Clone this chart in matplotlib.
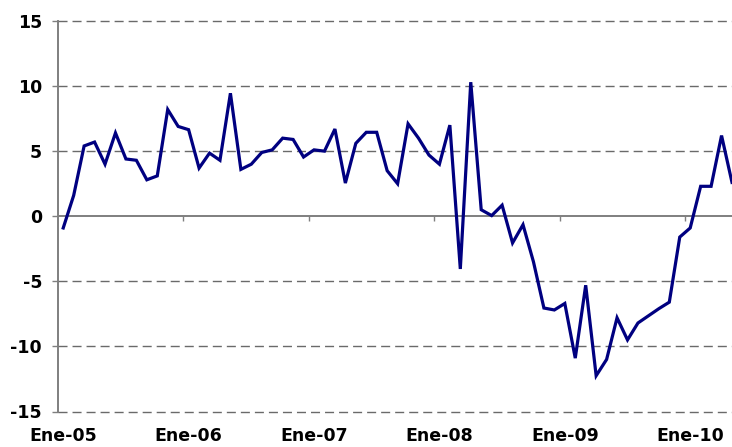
import matplotlib.pyplot as plt
import numpy as np

# Datos: variacion mensual, enero 2005 a mayo 2010
valores = [-0.9, 1.6, 5.4, 5.7, 4.0, 6.4, 4.4, 4.3, 2.8, 3.1, 8.2, 6.9,
           6.65, 3.7, 4.85, 4.3, 9.45, 3.6, 4.0, 4.9, 5.1, 6.0, 5.9, 4.55,
           5.1, 5.0, 6.7, 2.55, 5.6, 6.45, 6.45, 3.5, 2.5, 7.1, 6.0, 4.7,
           4.0, 7.0, -4.05, 10.3, 0.5, 0.05, 0.85, -2.05, -0.65, -3.5, -7.05, -7.2,
           -6.7, -10.9, -5.3, -12.25, -11.0, -7.8, -9.5, -8.2, -7.65, -7.1,
           -6.6, -1.6, -0.9, 2.3, 2.3, 6.2, 2.6]
etiquetas = ['Ene-05', 'Ene-06', 'Ene-07', 'Ene-08', 'Ene-09', 'Ene-10']
yticks = [-15, -10, -5, 0, 5, 10, 15]

x = np.arange(len(valores))
pos_etiquetas = np.arange(len(etiquetas)) * 12
limites = pos_etiquetas - 0.5  # marcas entre categorias (estilo Excel)

fig = plt.figure(figsize=(7.32, 4.47), dpi=100)
ax = fig.add_axes([58 / 732, 35.5 / 447, 674 / 732, 390.5 / 447])

gris = '#7f7f7f'
for v in yticks:
    if v != 0:
        ax.axhline(v, color='#6a6a6a', lw=1.0, ls=(0, (6.5, 3.6)), zorder=1,
                   clip_on=False)
ax.axhline(0, color=gris, lw=1.4, zorder=2)
ax.vlines(limites[1:], -0.4, 0, color=gris, lw=1.0, zorder=2)

ax.plot(x, valores, color='#000080', lw=2.3, zorder=3, solid_joinstyle='miter')

ax.set_xlim(-0.5, 64.0)
ax.set_ylim(-15, 15)
ax.set_yticks(yticks)
ax.set_yticklabels([str(v) for v in yticks])
ax.set_xticks(pos_etiquetas)
ax.set_xticklabels(etiquetas)

for s in ['top', 'right', 'bottom']:
    ax.spines[s].set_visible(False)
ax.spines['left'].set_color(gris)
ax.spines['left'].set_linewidth(1.4)

ax.tick_params(axis='y', length=4.5, width=1.0, color=gris, pad=7,
               labelsize=12.5, labelcolor='black')
ax.tick_params(axis='x', length=0, pad=11, labelsize=12.5, labelcolor='black')
for lab in ax.get_xticklabels() + ax.get_yticklabels():
    lab.set_fontweight('bold')

fig.savefig('out.png', dpi=100)
